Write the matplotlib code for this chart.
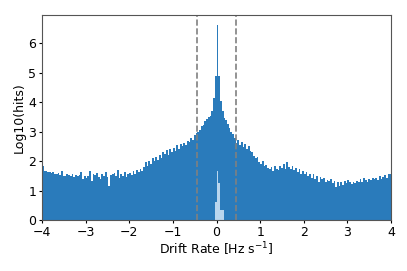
import numpy as np
import matplotlib
matplotlib.use('Agg')
import matplotlib.pyplot as plt

# log10(hits) per drift-rate bin, bins of 0.04 Hz/s from -4 to 4
bin_width = 0.04
log_hits = [
    1.85, 1.68, 1.66, 1.64, 1.62, 1.60, 1.62, 1.58, 1.55, 1.60,
    1.52, 1.66, 1.50, 1.48, 1.55, 1.52, 1.50, 1.56, 1.45, 1.54,
    1.48, 1.52, 1.62, 1.38, 1.50, 1.42, 1.48, 1.66, 1.34, 1.55,
    1.52, 1.60, 1.45, 1.40, 1.58, 1.48, 1.62, 1.46, 1.14, 1.52,
    1.55, 1.60, 1.48, 1.70, 1.42, 1.58, 1.50, 1.62, 1.45, 1.55,
    1.60, 1.52, 1.65, 1.58, 1.70, 1.62, 1.74, 1.66, 1.80, 1.96,
    1.85, 2.02, 1.92, 2.10, 2.00, 2.15, 2.05, 2.22, 2.12, 2.30,
    2.25, 2.38, 2.20, 2.42, 2.32, 2.45, 2.35, 2.55, 2.40, 2.58,
    2.50, 2.62, 2.55, 2.70, 2.65, 2.78, 2.72, 2.88, 2.95, 3.00,
    3.05, 3.18, 3.22, 3.35, 3.42, 3.50, 3.55, 3.72, 4.15, 4.90,
    6.62, 4.88, 4.05, 3.70, 3.48, 3.40, 3.25, 3.12, 3.00, 2.92,
    2.80, 2.62, 2.72, 2.55, 2.65, 2.48, 2.58, 2.42, 2.50, 2.35,
    2.30, 2.18, 2.10, 2.15, 1.98, 1.92, 2.00, 1.82, 1.88, 1.78,
    1.72, 1.80, 1.68, 1.85, 1.75, 1.70, 1.82, 1.78, 1.92, 1.75,
    1.98, 1.80, 1.72, 1.85, 1.70, 1.78, 1.62, 1.74, 1.58, 1.66,
    1.55, 1.62, 1.50, 1.58, 1.42, 1.55, 1.38, 1.48, 1.30, 1.45,
    1.38, 1.42, 1.30, 1.36, 1.32, 1.40, 1.25, 1.34, 1.12, 1.30,
    1.15, 1.28, 1.20, 1.32, 1.25, 1.35, 1.28, 1.22, 1.30, 1.26,
    1.32, 1.28, 1.38, 1.30, 1.42, 1.35, 1.28, 1.40, 1.36, 1.44,
    1.38, 1.42, 1.36, 1.48, 1.40, 1.45, 1.52, 1.42, 1.55, 1.58,
]

# second (small) population near zero drift
light_start = -0.04
light_hits = [0.60, 1.65, 1.26, 0.34, 0.34]

cut = 0.45

edges = -4 + bin_width * np.arange(len(log_hits))
light_edges = light_start + bin_width * np.arange(len(light_hits))

fig = plt.figure(figsize=(4.07, 2.71), dpi=100)
ax = fig.add_axes([0.103, 0.188, 0.858, 0.757])

ax.bar(edges, log_hits, width=bin_width, align='edge', color='#2a7bbb',
       linewidth=0)
ax.bar(light_edges, light_hits, width=bin_width, align='edge', color='#b9d6ee',
       linewidth=0)

ax.axvline(-cut, color='gray', linestyle='--', linewidth=1.2)
ax.axvline(cut, color='gray', linestyle='--', linewidth=1.2)

ax.set_xlim(-4, 4)
ax.set_ylim(0, 6.97)
ax.set_xlabel('Drift Rate [Hz s$^{-1}$]', fontsize=9, labelpad=1)
ax.set_ylabel('Log10(hits)', fontsize=9, labelpad=2)
ax.tick_params(labelsize=9, length=2.5, pad=1.5)
for s in ax.spines.values():
    s.set_color('#555555')

fig.savefig('out.png', dpi=100)
